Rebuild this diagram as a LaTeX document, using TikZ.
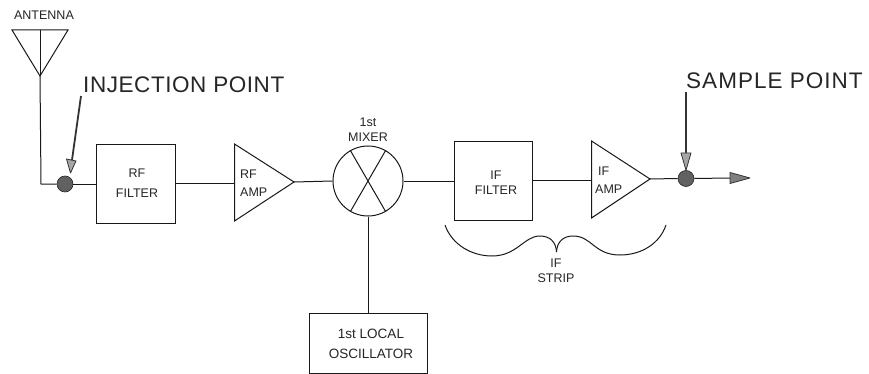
\documentclass[tikz,border=0pt]{standalone}
\usepackage{fontspec}
\setmainfont{Liberation Sans}
\newcommand{\lspace}[1]{\addfontfeature{LetterSpace=#1}}
\begin{document}
\begin{tikzpicture}[x=1pt,y=-1pt,
  wire/.style={draw=black!90,line width=1pt},
  blockbox/.style={draw=black!90,line width=1pt,inner sep=0pt},
  amp/.style={draw=black!90,line width=1pt,line join=miter},
  dotjoin/.style={circle,fill=black!62,draw=black!85,line width=0.6pt,minimum size=16pt,inner sep=0pt},
  lab/.style={font=\fontsize{12.5}{15.5}\selectfont,text=black!85,align=center,inner sep=0pt},
  wlab/.style={font=\fontsize{12.5}{18.5}\selectfont,text=black!85,align=left,inner sep=0pt,anchor=west},
  biglab/.style={font=\fontsize{22.5}{26}\selectfont,text=black!85,inner sep=0pt,anchor=west},
  pointer/.style={draw=black!80,line width=1.8pt},
  head/.style={fill=black!50,draw=black!80,line width=0.8pt,line join=round}]
\useasboundingbox (0,0) rectangle (869,374);
\fill[white] (0,0) rectangle (869,374);
% coordinates
\coordinate (antL) at (12,30);
\coordinate (antR) at (68,30);
\coordinate (antT) at (40,30);
\coordinate (antB) at (40,76);
\coordinate (corner) at (41,184);
\node[dotjoin] (inj) at (65,184) {};
\node[blockbox,minimum width=79pt,minimum height=78pt] (rff) at (135.5,184) {};
\coordinate (ra1) at (234.5,144);
\coordinate (ra2) at (234.5,221);
\coordinate (raO) at (294,182);
\node[circle,draw=black!90,line width=1pt,minimum size=70pt,inner sep=0pt] (mix) at (368,181) {};
\node[blockbox,minimum width=78pt,minimum height=78pt] (iff) at (493,181) {};
\coordinate (ia1) at (591.5,141);
\coordinate (ia2) at (591.5,218);
\coordinate (iaO) at (650,179);
\node[dotjoin] (smp) at (686,178.5) {};
\node[blockbox,minimum width=118pt,minimum height=60pt] (lo) at (368,343) {};
\coordinate (outEnd) at (750,178);
\coordinate (outHead) at (730,178);
\coordinate (injStart) at (81,96);
\coordinate (injHead) at (72,160);
\coordinate (smpStart) at (686,92);
\coordinate (smpHead) at (686,158);
% antenna
\draw[amp] (antL) -- (antR) -- (antB) -- cycle;
\draw[wire] (antT) -- (antB);
% wires
\draw[wire] (antB) -- (corner) -- (inj.west);
\draw[wire] (inj.east) -- (rff.west);
\draw[wire] (rff.east|-0,183) -- (234.5,183);
\draw[amp] (ra1) -- (raO) -- (ra2) -- cycle;
\draw[wire] (raO) -- (mix.west);
\draw[wire] (mix.east) -- (iff.west);
\draw[wire] (iff.east|-0,180) -- (591.5,180);
\draw[amp] (ia1) -- (iaO) -- (ia2) -- cycle;
\draw[wire] (iaO) -- (smp.west);
\draw[wire] (mix.south) -- (lo.north);
% mixer cross
\draw[wire] (mix.120) -- (mix.-60);
\draw[wire] (mix.60) -- (mix.-120);
% output arrow
\draw[wire] (smp.east) -- (outHead);
\draw[head] (outEnd) -- (730,172.5) -- (730,183.5) -- cycle;
% pointers
\draw[pointer] (injStart) -- (injHead);
\draw[head,fill=black!35] (70.5,173) -- (66.5,159) -- (76,161) -- cycle;
\draw[pointer] (smpStart) -- (smpHead);
\draw[head,fill=black!35] (smp.north) -- (681,153) -- (691,153) -- cycle;
% brace
\draw[draw=black!90,line width=1pt]
  (445,225) .. controls (452,245) and (472,256) .. (492,256)
  .. controls (517,256) and (524,236) .. (540,236)
  .. controls (550,236) and (556,242) .. (556.5,252);
\draw[draw=black!90,line width=1pt]
  (556.5,252) .. controls (557,242) and (563,236) .. (573,236)
  .. controls (592,236) and (594,255) .. (620,255)
  .. controls (642,255) and (660,243) .. (666,225);
% labels
\node[lab] (tAnt) at (44,15) {ANTENNA};
\node[biglab,font=\fontsize{22.5}{26}\selectfont\lspace{2.5}] (tInj) at (83,85) {INJECTION POINT};
\node[biglab,font=\fontsize{22.5}{26}\selectfont\lspace{4.5}] (tSmp) at (686,81) {SAMPLE POINT};
\node[lab,font=\fontsize{12.5}{20}\selectfont] (tRff) at (137,183) {RF\\FILTER};
\node[wlab] (tRa) at (240,183) {RF\\AMP};
\node[lab] (tMix) at (368,129.5) {1st\\MIXER};
\node[lab] (tIff) at (496,182.5) {IF\\FILTER};
\node[wlab] (tIa) at (595,180) {\hspace{3pt}IF\\AMP};
\node[lab] at (556,271) {IF\\STRIP};
\node[lab,font=\fontsize{13.5}{20}\selectfont] (tLo) at (371,343.5) {1st LOCAL\\OSCILLATOR};
\end{tikzpicture}
\end{document}
